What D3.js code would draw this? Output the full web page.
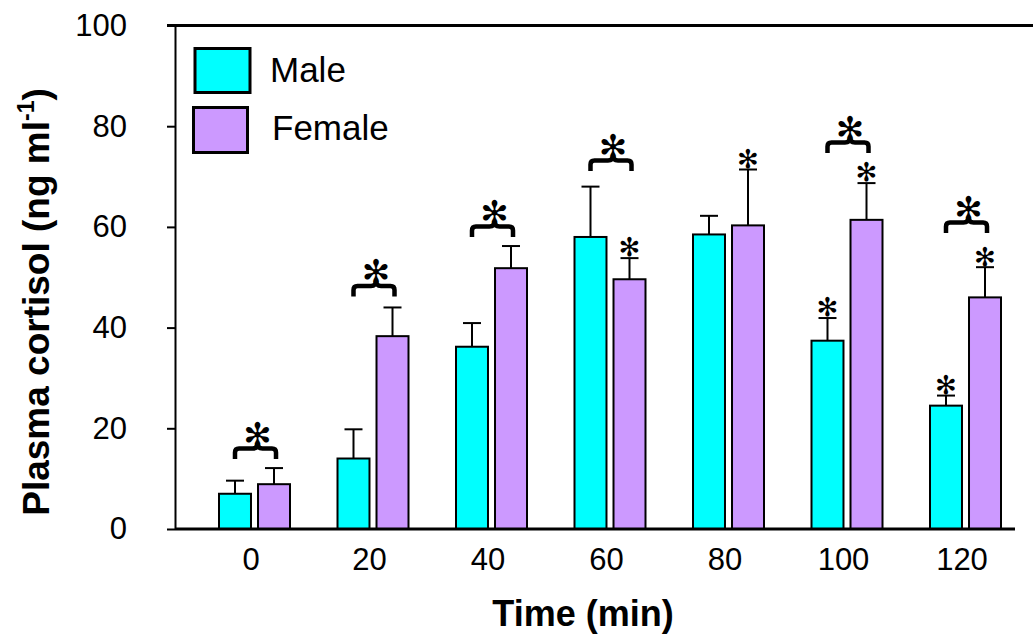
<!DOCTYPE html>
<html>
<head>
<meta charset="utf-8">
<script src="https://cdn.jsdelivr.net/npm/d3@7"></script>
<style>
  html, body { margin: 0; padding: 0; background: #fff; }
  svg { display: block; }
  text { font-family: "Liberation Sans", Arial, sans-serif; fill: #000; }
</style>
</head>
<body>
<svg id="chart" width="1033" height="635"></svg>
<script>
// Sampling times (min)
const times = ["0", "20", "40", "60", "80", "100", "120"];
// Plasma cortisol means and SEM (ng/ml)
const maleMean   = [7.0, 14.0, 36.2, 58.0, 58.5, 37.4, 24.5];
const maleSem    = [2.6, 5.8, 4.7, 10.0, 3.7, 4.5, 2.0];
const femaleMean = [8.9, 38.3, 51.8, 49.6, 60.3, 61.4, 46.0];
const femaleSem  = [3.2, 5.7, 4.4, 4.2, 11.1, 7.3, 6.0];
// Significant change vs. time 0 within each sex
const maleSig    = [false, false, false, false, false, true, true];
const femaleSig  = [false, false, false, true, true, true, true];
// Male vs female difference: level (ng/ml) at which the bracket is drawn, null = n.s.
const sexBracket = [13.9, 46.2, 58.0, 71.1, null, 74.7, 58.8];
const yTicks = [0, 20, 40, 60, 80, 100];
const series = ["Male", "Female"];
const colors = ["#00FFFF", "#CC99FF"];
const sigMark = "\u273B";

const svg = d3.select("#chart");
const axisX0 = 175, axisX1 = 1015;

const y = d3.scaleLinear().domain([0, 100]).range([529, 25.5]);
const x = d3.scalePoint().domain(times).range([254.5, 965.5]);
const xs = d3.scaleBand().domain(series).range([-35.5, 35.5]).paddingInner(0.18);
const bw = xs.bandwidth();

const rows = times.map((t, i) => ({
  t,
  vals: [
    { s: "Male", mean: maleMean[i], sem: maleSem[i], sig: maleSig[i], c: colors[0] },
    { s: "Female", mean: femaleMean[i], sem: femaleSem[i], sig: femaleSig[i], c: colors[1] }
  ],
  bracket: sexBracket[i]
}));

// error bars (upper only), drawn below the bars
const g = svg.append("g");
rows.forEach(r => {
  r.vals.forEach(v => {
    const cx = x(r.t) + xs(v.s) + bw / 2;
    g.append("line")
      .attr("x1", cx).attr("x2", cx)
      .attr("y1", y(v.mean)).attr("y2", y(v.mean + v.sem))
      .attr("stroke", "#000").attr("stroke-width", 2);
    g.append("line")
      .attr("x1", cx - 9).attr("x2", cx + 9)
      .attr("y1", y(v.mean + v.sem)).attr("y2", y(v.mean + v.sem))
      .attr("stroke", "#000").attr("stroke-width", 2);
  });
});

// bars
rows.forEach(r => {
  g.selectAll(null).data(r.vals).enter().append("rect")
    .attr("x", v => x(r.t) + xs(v.s))
    .attr("y", v => y(v.mean))
    .attr("width", bw)
    .attr("height", v => y(0) - y(v.mean))
    .attr("fill", v => v.c)
    .attr("stroke", "#000")
    .attr("stroke-width", 2);
});

function star(cx, cy, size) {
  svg.append("text")
    .attr("x", cx).attr("y", cy + size * 0.36)
    .attr("text-anchor", "middle")
    .style("font-family", "'DejaVu Sans', sans-serif")
    .style("font-size", size + "px")
    .text(sigMark);
}

// within-sex significance markers
rows.forEach(r => {
  r.vals.forEach(v => {
    if (!v.sig) return;
    const cx = x(r.t) + xs(v.s) + bw / 2;
    star(cx, y(v.mean + v.sem) - 11, 26);
  });
});

// between-sex brackets
rows.forEach(r => {
  if (r.bracket == null) return;
  const x1 = x(r.t) + xs("Male") + bw / 2;
  const x2 = x(r.t) + xs("Female") + bw / 2 + 2;
  const xc = (x1 + x2) / 2 + 2;
  const yb = y(r.bracket), yt = yb - 10.5, rr = 4;
  const p = d3.path();
  p.moveTo(x1, yb);
  p.lineTo(x1, yt + rr);
  p.quadraticCurveTo(x1, yt, x1 + rr, yt);
  p.lineTo(xc - 5, yt);
  p.quadraticCurveTo(xc, yt, xc, yt - 5);
  p.quadraticCurveTo(xc, yt, xc + 5, yt);
  p.lineTo(x2 - rr, yt);
  p.quadraticCurveTo(x2, yt, x2, yt + rr);
  p.lineTo(x2, yb);
  svg.append("path").attr("d", p.toString())
    .attr("fill", "none").attr("stroke", "#000").attr("stroke-width", 4.5);
  star(xc, yt - 14, 34);
});

// y axis
const yAxis = d3.axisLeft(y).tickValues(yTicks).tickSize(8).tickSizeOuter(0).tickPadding(40);
const ya = svg.append("g").attr("transform", `translate(${axisX0},0)`).call(yAxis);
ya.select(".domain").attr("stroke-width", 2);
ya.selectAll(".tick line").attr("stroke-width", 2);
ya.selectAll(".tick text").style("font-size", "31px")
  .style("font-family", "'Liberation Sans', Arial, sans-serif");

// x axis (labels only) and frame lines
const xAxis = d3.axisBottom(x).tickSize(0).tickPadding(19);
const xa = svg.append("g").attr("transform", `translate(0,${y(0)})`).call(xAxis);
xa.select(".domain").remove();
xa.selectAll(".tick text").attr("dx", -4).style("font-size", "31px")
  .style("font-family", "'Liberation Sans', Arial, sans-serif");
svg.append("line").attr("x1", axisX0).attr("x2", axisX1)
  .attr("y1", y(0)).attr("y2", y(0)).attr("stroke", "#000").attr("stroke-width", 3);
svg.append("line").attr("x1", axisX0 - 8).attr("x2", 1033)
  .attr("y1", y(100)).attr("y2", y(100)).attr("stroke", "#000").attr("stroke-width", 3);

// axis titles
svg.append("text")
  .attr("x", 583).attr("y", 626)
  .attr("text-anchor", "middle")
  .style("font-size", "36px").style("font-weight", "bold")
  .text("Time (min)");

const yt = svg.append("text")
  .attr("transform", "translate(49,302) rotate(-90)")
  .attr("text-anchor", "middle")
  .style("font-size", "37px").style("font-weight", "bold");
yt.append("tspan").text("Plasma cortisol (ng ml");
yt.append("tspan").attr("dy", -15).style("font-size", "23px").text("-1");
yt.append("tspan").attr("dy", 15).text(")");

// legend
const leg = svg.append("g");
const legBoxes = [[195, 48.5, 55, 44], [193.5, 107.5, 54, 45]];
const legText = [[270, 82], [272, 140]];
series.forEach((s, i) => {
  leg.append("rect")
    .attr("x", legBoxes[i][0]).attr("y", legBoxes[i][1])
    .attr("width", legBoxes[i][2]).attr("height", legBoxes[i][3])
    .attr("fill", colors[i]).attr("stroke", "#000").attr("stroke-width", 3);
  leg.append("text")
    .attr("x", legText[i][0]).attr("y", legText[i][1])
    .style("font-size", "35px")
    .text(s);
});
</script>
</body>
</html>
